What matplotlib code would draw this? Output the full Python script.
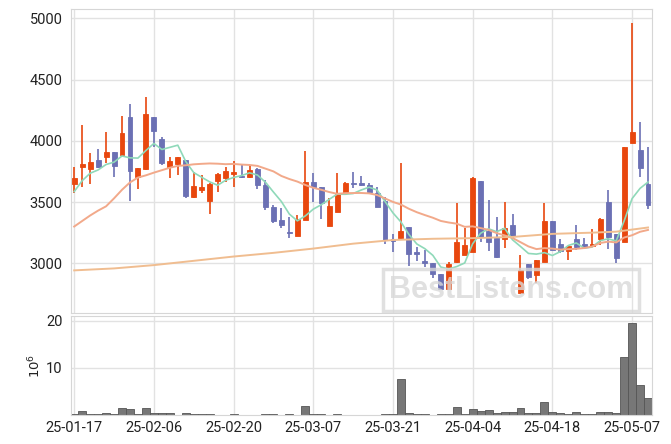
import matplotlib
matplotlib.use("Agg")
import matplotlib.pyplot as plt
import numpy as np
import pandas as pd

dates = ["25-01-17", "25-01-20", "25-01-21", "25-01-22", "25-01-23", "25-01-24", "25-01-31",
         "25-02-03", "25-02-04", "25-02-05", "25-02-06", "25-02-07", "25-02-10", "25-02-11",
         "25-02-12", "25-02-13", "25-02-14", "25-02-17", "25-02-18", "25-02-19", "25-02-20",
         "25-02-21", "25-02-24", "25-02-25", "25-02-26", "25-02-27", "25-02-28", "25-03-04",
         "25-03-05", "25-03-06", "25-03-07", "25-03-10", "25-03-11", "25-03-12", "25-03-13",
         "25-03-14", "25-03-17", "25-03-18", "25-03-19", "25-03-20", "25-03-21", "25-03-24",
         "25-03-25", "25-03-26", "25-03-27", "25-03-28", "25-03-31", "25-04-01", "25-04-02",
         "25-04-03", "25-04-04", "25-04-07", "25-04-08", "25-04-09", "25-04-10", "25-04-11",
         "25-04-14", "25-04-15", "25-04-16", "25-04-17", "25-04-18", "25-04-21", "25-04-22",
         "25-04-23", "25-04-24", "25-04-25", "25-04-28", "25-04-29", "25-04-30", "25-05-02",
         "25-05-07", "25-05-08", "25-05-09"]

opens = [3645, 3790, 3772, 3841, 3865, 3906, 3882, 4192, 3707, 3770, 4192, 4012, 3789, 3811,
         3843, 3539, 3598, 3509, 3672, 3699, 3731, 3713, 3702, 3767, 3639, 3462, 3353, 3258,
         3225, 3354, 3664, 3620, 3307, 3421, 3576, 3658, 3658, 3639, 3576, 3511, 3198, 3209,
         3294, 3090, 3019, 3000, 2910, 2788, 3008, 3070, 3095, 3672, 3266, 3204, 3196, 3313,
         2760, 2992, 2905, 3010, 3348, 3158, 3103, 3196, 3158, 3141, 3196, 3498, 3239, 3176,
         3985, 3925, 3647]
highs = [3790, 4129, 3898, 3931, 4069, 3906, 4202, 4298, 3780, 4360, 4192, 4034, 3870, 3870,
         3843, 3743, 3723, 3655, 3740, 3784, 3838, 3805, 3802, 3780, 3680, 3476, 3449, 3376,
         3394, 3917, 3735, 3620, 3531, 3735, 3665, 3748, 3713, 3658, 3625, 3539, 3239, 3816,
         3300, 3131, 3109, 3002, 2912, 3013, 3495, 3291, 3707, 3672, 3514, 3380, 3498, 3400,
         3068, 2995, 3030, 3495, 3348, 3196, 3145, 3313, 3204, 3278, 3367, 3598, 3240, 3947,
         4964, 4151, 3947]
lows = [3570, 3625, 3645, 3775, 3821, 3702, 3880, 3509, 3607, 3760, 3952, 3800, 3694, 3724,
        3531, 3531, 3571, 3402, 3580, 3661, 3625, 3700, 3700, 3604, 3435, 3327, 3291, 3204,
        3222, 3350, 3503, 3362, 3305, 3419, 3574, 3612, 3630, 3571, 3460, 3155, 3095, 3198,
        2978, 3021, 2972, 2878, 2780, 2786, 3005, 3065, 3090, 3176, 3103, 3041, 3122, 3204,
        2755, 2869, 2837, 3008, 3105, 3082, 3027, 3109, 3114, 3138, 3150, 3114, 3005, 3174,
        3980, 3707, 3441]
closes = [3700, 3810, 3827, 3786, 3909, 3797, 4061, 3751, 3776, 4219, 4083, 3816, 3838, 3865,
          3552, 3631, 3625, 3650, 3727, 3756, 3745, 3702, 3762, 3637, 3462, 3345, 3313, 3250,
          3362, 3664, 3620, 3495, 3468, 3576, 3658, 3650, 3637, 3585, 3462, 3190, 3182, 3266,
          3074, 3074, 3000, 2910, 2788, 2994, 3174, 3147, 3694, 3217, 3176, 3054, 3286, 3225,
          2945, 2891, 3027, 3346, 3109, 3103, 3141, 3131, 3131, 3158, 3362, 3217, 3041, 3947,
          4072, 3780, 3476]
volumes = [0.2, 0.85, 0.15, 0.15, 0.4, 0.15, 1.5, 1.3, 0.15, 1.5, 0.4, 0.4, 0.4, 0.1, 0.4,
           0.15, 0.15, 0.15, 0.05, 0.05, 0.15, 0.05, 0.05, 0.05, 0.15, 0.15, 0.05, 0.15, 0.05,
           1.85, 0.15, 0.15, 0.05, 0.15, 0.05, 0.05, 0.05, 0.05, 0.05, 0.15, 0.15, 7.6, 0.35,
           0.15, 0.15, 0.05, 0.15, 0.15, 1.6, 0.15, 1.3, 0.85, 1.05, 0.4, 0.65, 0.65, 1.4, 0.35,
           0.35, 2.7, 0.55, 0.35, 0.15, 0.55, 0.15, 0.15, 0.55, 0.55, 0.35, 12.3, 19.5, 6.3, 3.55]

ma5_head = [3585, 3674, 3735, 3762]
ma20_head = [3300, 3345, 3390, 3430, 3465, 3530, 3600, 3660, 3700, 3718, 3740, 3760, 3780,
             3795, 3800, 3808, 3812, 3815, 3813]
long_ma_idx = [0, 5, 10, 15, 20, 25, 30, 35, 40, 45, 50, 55, 60, 65, 68, 70, 72]
long_ma_val = [2942, 2958, 2985, 3020, 3055, 3085, 3120, 3160, 3190, 3200, 3205, 3215, 3240,
               3250, 3258, 3275, 3292]

UP = "#e8470e"
DOWN = "#6b70b4"

n = len(dates)
x = np.arange(n)
c = pd.Series(closes, dtype=float)
ma5 = c.rolling(5).mean().to_numpy()
ma5[:4] = ma5_head
ma20 = c.rolling(20).mean().to_numpy()
ma20[:19] = ma20_head

plt.rcParams['font.family'] = ['Roboto', 'DejaVu Sans']
fig = plt.figure(figsize=(6.71, 4.44), dpi=100)
W, H = 671, 444
ax = fig.add_axes([71 / W, 1 - 313 / H, 581 / W, 304 / H])
axv = fig.add_axes([71 / W, 1 - 415 / H, 581 / W, 99 / H], sharex=ax)

for a in (ax, axv):
    a.grid(True, color="#e2e2e2", lw=1)
    a.set_axisbelow(True)
    for s in a.spines.values():
        s.set_color("#d6d6d6")
    a.tick_params(length=0, labelsize=10.5, colors="#222222")

o = np.array(opens, float); cl = np.array(closes, float)
hi = np.array(highs, float); lo = np.array(lows, float)
cols = [UP if cc >= oo else DOWN for oo, cc in zip(o, cl)]
ax.vlines(x, lo, hi, colors=cols, lw=1.2, zorder=2)
body_b = np.minimum(o, cl)
body_h = np.maximum(np.abs(cl - o), 8)
ax.bar(x, body_h, bottom=body_b, width=0.62, color=cols, edgecolor=cols, lw=0.6, zorder=3)

ax.plot(x, ma5, color="#8fd9b9", lw=1.2, zorder=4)
ax.plot(x, ma20, color="#f2a98a", lw=1.4, zorder=4)
ax.plot(long_ma_idx, long_ma_val, color="#f0bd90", lw=1.4, zorder=4)

ax.set_ylim(2594, 5076)
ax.set_yticks([3000, 3500, 4000, 4500, 5000])
ax.set_xlim(-0.4, n - 0.5)
ax.set_xticks(np.arange(0, n, 10))
plt.setp(ax.get_xticklabels(), visible=False)

axv.bar(x, volumes, width=1.0, color="#777777", edgecolor="#555555", lw=0.6, zorder=2)
axv.set_ylim(0, 21.06)
axv.set_yticks([10, 20])
axv.set_xticks(np.arange(0, n, 10))
axv.set_xticklabels([dates[i] for i in range(0, n, 10)])
axv.set_ylabel(r"$10^{6}$", fontsize=9.5, color="#222222", family="DejaVu Sans", labelpad=2)
axv.tick_params(axis="x", pad=4)
axv.tick_params(axis="y", pad=6)
ax.tick_params(axis="y", pad=6)

fig.text(511 / W, 1 - 290 / H, "BestListens.com", ha="center", va="center",
         fontsize=22, fontweight="bold", color="#d9d9d9", family="Liberation Sans",
         alpha=0.8, zorder=10,
         bbox=dict(boxstyle="square,pad=0.2", fc="none", ec="#d9d9d9", lw=2.5, alpha=0.8))

fig.savefig("out.png", dpi=100)
